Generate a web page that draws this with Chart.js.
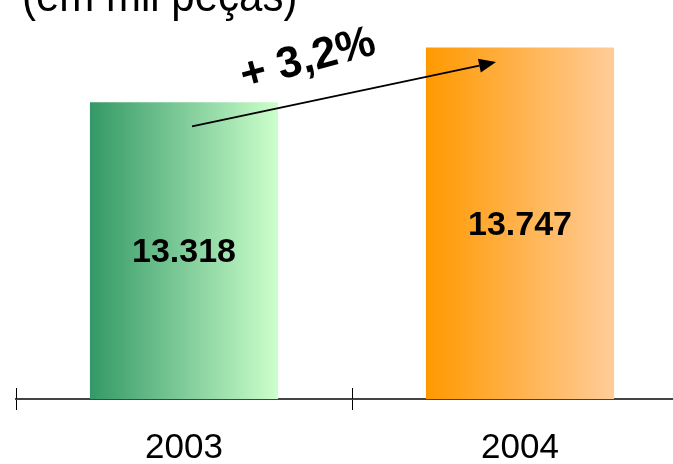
<!DOCTYPE html>
<html>
<head>
<meta charset="utf-8">
<script src="https://cdn.jsdelivr.net/npm/chart.js@4"></script>
<style>
html,body{margin:0;padding:0;background:#fff;overflow:hidden;width:673px;height:464px;}
#wrap{width:700px;height:464px;position:relative;}
</style>
</head>
<body>
<div id="wrap"><canvas id="c"></canvas></div>
<script>
const categories = ['2003', '2004'];
const values = [13318, 13747];
const valueLabels = ['13.318', '13.747'];
const growthLabel = '+ 3,2%';
const unitTitle = '(em mil peças)';
const gradStart = ['#339966', '#FF9900'];
const gradEnd = ['#CCFFCC', '#FFCC99'];

function barGradient(ctx) {
  const chart = ctx.chart;
  const i = ctx.dataIndex;
  const xs = chart.scales.x;
  if (!chart.chartArea || !xs || xs.width === undefined) return gradStart[i];
  const cx = xs.getPixelForValue(i);
  const catW = xs.width / categories.length;
  const half = catW * 0.56 / 2;
  const g = chart.ctx.createLinearGradient(cx - half, 0, cx + half, 0);
  g.addColorStop(0, gradStart[i]);
  g.addColorStop(1, gradEnd[i]);
  return g;
}

const overlay = {
  id: 'overlay',
  afterDraw(chart) {
    const ctx = chart.ctx;
    const xs = chart.scales.x, ys = chart.scales.y;
    const base = chart.chartArea.bottom;
    ctx.save();
    // title
    ctx.fillStyle = '#000';
    ctx.save();
    ctx.translate(22, 11);
    ctx.scale(1, 1.12);
    ctx.font = '42px "Liberation Sans", Arial, sans-serif';
    ctx.textAlign = 'left';
    ctx.textBaseline = 'alphabetic';
    ctx.fillText(unitTitle, 0, 0);
    ctx.restore();
    // value labels
    ctx.font = 'bold 34px "Liberation Sans", Arial, sans-serif';
    ctx.textAlign = 'center';
    ctx.textBaseline = 'middle';
    values.forEach((v, i) => {
      const px = xs.getPixelForValue(i);
      const top = ys.getPixelForValue(v);
      ctx.fillText(valueLabels[i], px, (top + base) / 2 + 2);
    });
    // upper tick marks
    const catW = xs.width / categories.length;
    ctx.strokeStyle = '#000';
    ctx.lineWidth = 1;
    for (let i = 0; i <= categories.length; i++) {
      const px = Math.round(xs.left + i * catW) + 0.5;
      ctx.beginPath();
      ctx.moveTo(px, base - 11);
      ctx.lineTo(px, base);
      ctx.stroke();
    }
    // arrow
    const x0 = xs.getPixelForValue(0) + 8, y0 = ys.getPixelForValue(13130);
    const x1 = xs.getPixelForValue(1) - 24, y1 = ys.getPixelForValue(13632);
    const ang = Math.atan2(y1 - y0, x1 - x0);
    const hl = 17, hw = 7;
    const bx = x1 - hl * Math.cos(ang), by = y1 - hl * Math.sin(ang);
    ctx.strokeStyle = '#000';
    ctx.lineWidth = 2;
    ctx.beginPath();
    ctx.moveTo(x0, y0);
    ctx.lineTo(bx, by);
    ctx.stroke();
    ctx.fillStyle = '#000';
    ctx.beginPath();
    ctx.moveTo(x1, y1);
    ctx.lineTo(bx + hw * Math.sin(ang), by - hw * Math.cos(ang));
    ctx.lineTo(bx - hw * Math.sin(ang), by + hw * Math.cos(ang));
    ctx.closePath();
    ctx.fill();
    // growth label
    const mx = (xs.getPixelForValue(0) + xs.getPixelForValue(1)) / 2 - 44;
    const my = ys.getPixelForValue(13650);
    ctx.translate(mx, my);
    ctx.rotate(-15 * Math.PI / 180);
    ctx.font = 'bold 44px "Liberation Sans", Arial, sans-serif';
    ctx.textAlign = 'center';
    ctx.textBaseline = 'middle';
    ctx.fillText(growthLabel, 0, 0);
    ctx.restore();
  }
};

new Chart(document.getElementById('c'), {
  type: 'bar',
  data: {
    labels: categories,
    datasets: [{
      data: values,
      backgroundColor: barGradient,
      borderWidth: 0,
      barPercentage: 0.56,
      categoryPercentage: 1.0
    }]
  },
  options: {
    responsive: true,
    maintainAspectRatio: false,
    animation: false,
    layout: { padding: { left: 16, right: 12, top: 15, bottom: -22 } },
    plugins: { legend: { display: false }, tooltip: { enabled: false }, title: { display: false } },
    scales: {
      x: {
        offset: true,
        grid: { display: true, drawOnChartArea: false, drawTicks: true, tickLength: 11, color: '#000', lineWidth: 1, offset: true },
        border: { display: true, color: '#444', width: 2 },
        ticks: { color: '#000', padding: 17, font: { family: '"Liberation Sans", Arial, sans-serif', size: 35 } }
      },
      y: {
        display: false,
        min: 11000,
        max: 14000
      }
    }
  },
  plugins: [overlay]
});
</script>
</body>
</html>
